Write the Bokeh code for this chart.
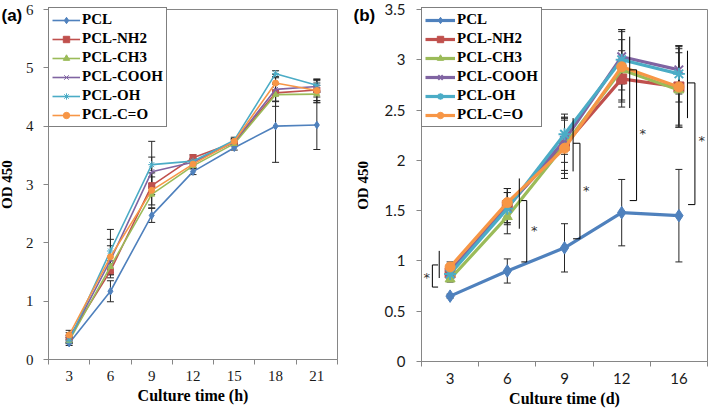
import numpy as np
from bokeh.plotting import figure
from bokeh.layouts import row
from bokeh.models import (FixedTicker, Legend, LegendItem, Whisker, TeeHead,
                          ColumnDataSource, Range1d, NumeralTickFormatter)
from bokeh.core.properties import value
from bokeh.embed import file_html
from bokeh.resources import INLINE

# ---------------- data ----------------
series = ["PCL", "PCL-NH2", "PCL-CH3", "PCL-COOH", "PCL-OH", "PCL-C=O"]

# panel (a): culture time in hours
times_a = ["3", "6", "9", "12", "15", "18", "21"]
a_pcl  = [0.28, 1.17, 2.47, 3.22, 3.63, 4.00, 4.02]
a_nh2  = [0.38, 1.52, 2.98, 3.46, 3.72, 4.57, 4.62]
a_ch3  = [0.32, 1.59, 2.83, 3.32, 3.70, 4.54, 4.55]
a_cooh = [0.35, 1.70, 3.22, 3.38, 3.73, 4.63, 4.68]
a_oh   = [0.33, 1.86, 3.34, 3.40, 3.76, 4.90, 4.70]
a_co   = [0.42, 1.76, 2.90, 3.35, 3.74, 4.74, 4.61]
ea_pcl  = [0.04, 0.18, 0.12, 0.05, 0.04, 0.62, 0.42]
ea_nh2  = [0.08, 0.12, 0.15, 0.05, 0.05, 0.15, 0.12]
ea_ch3  = [0.05, 0.10, 0.18, 0.05, 0.04, 0.20, 0.15]
ea_cooh = [0.06, 0.25, 0.25, 0.06, 0.05, 0.20, 0.10]
ea_oh   = [0.05, 0.37, 0.40, 0.05, 0.05, 0.05, 0.10]
ea_co   = [0.08, 0.30, 0.30, 0.06, 0.05, 0.15, 0.20]

# panel (b): culture time in days
times_b = ["3", "6", "9", "12", "16"]
b_pcl  = [0.65, 0.90, 1.13, 1.48, 1.45]
b_nh2  = [0.88, 1.55, 2.15, 2.81, 2.73]
b_ch3  = [0.82, 1.44, 2.15, 2.90, 2.70]
b_cooh = [0.90, 1.53, 2.20, 3.03, 2.90]
b_oh   = [0.87, 1.52, 2.26, 3.00, 2.86]
b_co   = [0.94, 1.58, 2.12, 2.93, 2.73]
eb_pcl  = [0.02, 0.12, 0.24, 0.33, 0.46]
eb_nh2  = [0.04, 0.17, 0.25, 0.28, 0.38]
eb_ch3  = [0.03, 0.17, 0.28, 0.30, 0.37]
eb_cooh = [0.05, 0.15, 0.22, 0.27, 0.24]
eb_oh   = [0.04, 0.16, 0.20, 0.30, 0.28]
eb_co   = [0.05, 0.14, 0.30, 0.35, 0.40]

# significance marks in panel (b) (value ranges)
sig_line_lo = [0.83, 1.32, 1.89, 2.52, 2.42]
sig_line_hi = [1.10, 1.82, 2.42, 3.23, 3.09]
sig_brk_lo  = [0.74, 0.99, 1.22, 1.60, 1.56]
sig_brk_hi  = [0.96, 1.60, 2.17, 2.90, 2.77]
sig_star_y  = [0.84, 1.30, 1.70, 2.27, 2.20]
sig_text    = ["*", "*", "*", "*", "*"]

panel_letters = ["(a)", "(b)"]
y_title = "OD 450"
x_titles = ["Culture time (h)", "Culture time (d)"]

# ---------------- style / layout (pixels) ----------------
colors = ["#4F81BD", "#C0504D", "#9BBB59", "#8064A2", "#4BACC6", "#F79646"]
markers = ["diamond", "square", "triangle", "x", "asterisk", "circle"]
SERIF = "Liberation Serif"
AXIS_GRAY = "#868686"
H = 408
W_A, W_B = 352, 357
BOX_T = 9
LEG_H = 121

# offsets (in category units) of the significance marks
dx_line = [-0.19, 0.21, 0.15, 0.14, 0.15]
dx_brk  = [-0.31, 0.34, 0.27, 0.26, 0.28]
dx_tick = [-0.21, 0.245, 0.15, 0.14, 0.16]
dx_star = [-0.41, 0.47, 0.38, 0.37, 0.40]


def make_panel(times, vals, errs, ymax, ystep, cw, box_l, box_r, box_b,
               tick_font, xlabel, lw, msize, xsize_extra, glyph_w,
               ylab_standoff, ytitle_standoff, letter):
    n = len(times)
    xs = np.arange(n) + 0.5
    ppx = (box_r - box_l) / n
    ppy = (box_b - BOX_T) / ymax
    x0 = -box_l / ppx
    x1 = n + (cw - box_r) / ppx
    y1 = ymax + BOX_T / ppy
    y0 = -(H - box_b) / ppy

    p = figure(width=cw, height=H, output_backend="svg", toolbar_location=None,
               x_range=Range1d(x0, x1), y_range=Range1d(y0, y1),
               min_border_left=0, min_border_right=0,
               min_border_top=0, min_border_bottom=0)
    p.outline_line_color = None
    p.xgrid.visible = False
    p.ygrid.visible = False
    p.background_fill_color = "white"
    p.border_fill_color = "white"

    # plot box (top and right edges; left/bottom are the axes)
    p.quad(left=[0], right=[n], bottom=[0], top=[ymax], fill_color=None,
           line_color=AXIS_GRAY, line_width=1)

    # x axis: labels at category centres, ticks at boundaries
    xa = p.xaxis[0]
    xa.fixed_location = 0
    xa.bounds = (0, n)
    xa.ticker = FixedTicker(ticks=list(xs), minor_ticks=list(np.arange(n + 1)))
    xa.major_label_overrides = {float(x): t for x, t in zip(xs, times)}
    xa.major_tick_line_color = None
    xa.major_tick_out = 5
    xa.major_tick_in = 0
    xa.minor_tick_line_color = AXIS_GRAY
    xa.minor_tick_out = 5
    xa.minor_tick_in = 0
    xa.axis_line_color = AXIS_GRAY
    xa.major_label_text_font = tick_font
    xa.major_label_text_font_size = "15px"
    xa.major_label_text_color = "#1a1a1a"
    xa.major_label_standoff = 6
    xa.axis_label = xlabel
    xa.axis_label_text_font = SERIF
    xa.axis_label_text_font_style = "bold"
    xa.axis_label_text_font_size = "16px"
    xa.axis_label_text_color = "black"
    xa.axis_label_standoff = 3

    ya = p.yaxis[0]
    ya.fixed_location = 0
    ya.bounds = (0, ymax)
    ya.ticker = FixedTicker(ticks=list(np.arange(0, ymax + 1e-9, ystep)))
    ya.formatter = NumeralTickFormatter(format="0.[0]")
    ya.major_tick_line_color = AXIS_GRAY
    ya.major_tick_out = 5
    ya.major_tick_in = 0
    ya.minor_tick_line_color = None
    ya.axis_line_color = AXIS_GRAY
    ya.major_label_text_font = tick_font
    ya.major_label_text_font_size = "15px"
    ya.major_label_text_color = "#1a1a1a"
    ya.major_label_standoff = ylab_standoff
    ya.axis_label = y_title
    ya.axis_label_text_font = SERIF
    ya.axis_label_text_font_style = "bold"
    ya.axis_label_text_font_size = "15px"
    ya.axis_label_text_color = "black"
    ya.axis_label_standoff = ytitle_standoff

    # error bars
    for v, e in zip(vals, errs):
        v = np.array(v)
        e = np.array(e)
        src = ColumnDataSource(dict(x=xs, lo=v - e, hi=v + e))
        w = Whisker(source=src, base="x", lower="lo", upper="hi",
                    line_color="#262626", line_width=1,
                    lower_head=TeeHead(size=7, line_color="#262626", line_width=1),
                    upper_head=TeeHead(size=7, line_color="#262626", line_width=1))
        p.add_layout(w)

    items = []
    for name, v, c, m in zip(series, vals, colors, markers):
        src = ColumnDataSource(dict(x=xs, y=v))
        lr = p.line("x", "y", source=src, line_color=c, line_width=lw)
        sz = msize + (xsize_extra if m in ("x", "asterisk") else 0)
        if m in ("x", "asterisk"):
            mr = p.scatter("x", "y", source=src, marker=m, size=sz,
                           line_color=c, line_width=max(1.0, lw * 0.6))
        else:
            mr = p.scatter("x", "y", source=src, marker=m,
                           size=sz * (1.25 if m == "diamond" else 1.0),
                           fill_color=c, line_color=c)
        items.append(LegendItem(label=name, renderers=[lr, mr]))

    leg = Legend(items=items, location=(box_l, H - BOX_T - LEG_H + 3))
    leg.border_line_color = "black"
    leg.border_line_width = 1
    leg.background_fill_color = "white"
    leg.background_fill_alpha = 1
    leg.label_text_font = SERIF
    leg.label_text_font_style = "bold"
    leg.label_text_font_size = "15px"
    leg.label_text_color = "black"
    leg.glyph_width = glyph_w
    leg.glyph_height = 16
    leg.label_standoff = 2
    leg.spacing = 2
    leg.padding = 3
    leg.margin = 0
    p.add_layout(leg)

    # panel letter, left of the plot box near the height of its top edge
    lt = ColumnDataSource(dict(x=[x0 + 1 / ppx], y=[y1 - 15 / ppy], t=[letter]))
    p.text("x", "y", text="t", source=lt, text_font=value("Liberation Sans"),
           text_font_style="bold", text_font_size="17px", text_color="black",
           text_align="left", text_baseline="middle")
    return p, xs


pa, xs_a = make_panel(times_a, [a_pcl, a_nh2, a_ch3, a_cooh, a_oh, a_co],
                      [ea_pcl, ea_nh2, ea_ch3, ea_cooh, ea_oh, ea_co],
                      6, 1, W_A, 48, 337, 359, SERIF, x_titles[0], 1.6, 6, 1, 28,
                      10, 8, panel_letters[0])
pb, xs_b = make_panel(times_b, [b_pcl, b_nh2, b_ch3, b_cooh, b_oh, b_co],
                      [eb_pcl, eb_nh2, eb_ch3, eb_cooh, eb_oh, eb_co],
                      3.5, 0.5, W_B, 69, 355, 361, "Lato", x_titles[1], 3.2, 10, 2, 30,
                      11, 11, panel_letters[1])

# significance brackets in panel (b)
xb = xs_b
seg = ColumnDataSource(dict(
    x_line=xb + np.array(dx_line), lo=sig_line_lo, hi=sig_line_hi,
    x_brk=xb + np.array(dx_brk), x_tick=xb + np.array(dx_tick),
    blo=sig_brk_lo, bhi=sig_brk_hi,
    x_star=xb + np.array(dx_star), y_star=sig_star_y, t=sig_text))
pb.segment("x_line", "lo", "x_line", "hi", source=seg, line_color="black", line_width=1)
pb.segment("x_brk", "blo", "x_brk", "bhi", source=seg, line_color="black", line_width=1)
pb.segment("x_tick", "blo", "x_brk", "blo", source=seg, line_color="black", line_width=1)
pb.segment("x_tick", "bhi", "x_brk", "bhi", source=seg, line_color="black", line_width=1)
pb.text("x_star", "y_star", text="t", source=seg, text_font=value("DejaVu Sans"),
        text_font_size="13px", text_color="#333333", text_align="center",
        text_baseline="middle")

layout = row(pa, pb, spacing=0)
open("out.html", "w").write(file_html(layout, INLINE))
